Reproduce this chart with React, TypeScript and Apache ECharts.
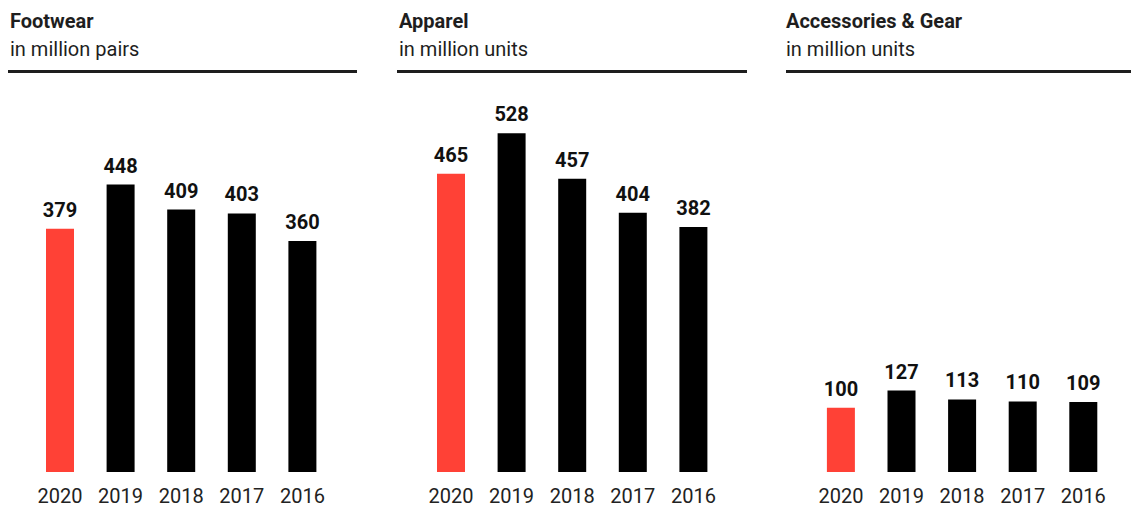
import React, { useEffect, useRef } from "react";
import * as echarts from "echarts";

const years = ["2020", "2019", "2018", "2017", "2016"];
const footwear = [379, 448, 409, 403, 360];
const apparel = [465, 528, 457, 404, 382];
const accessories = [100, 127, 113, 110, 109];
const panelTitles = ["Footwear", "Apparel", "Accessories & Gear"];
const panelUnits = ["in million pairs", "in million units", "in million units"];
const seriesData = [footwear, apparel, accessories];

const RED = "#ff4136";
const DARK = "#1e1e1e";
const FONT = "Roboto, 'Noto Sans', sans-serif";

const gridLefts = [29.7, 420.7, 810.6];
const textLefts = [10, 399, 786];
const lineRanges = [
  [8, 357],
  [397, 747],
  [786, 1131],
];

export default function App() {
  const ref = useRef<HTMLDivElement>(null);
  useEffect(() => {
    if (!ref.current) return;
    const chart = echarts.init(ref.current, null, { renderer: "svg" });
    const graphics: any[] = [];
    panelTitles.forEach((t, i) => {
      graphics.push({
        type: "text",
        left: textLefts[i],
        top: 11,
        style: { text: t, font: `bold 20px ${FONT}`, fill: DARK },
      });
      graphics.push({
        type: "text",
        left: textLefts[i],
        top: 39,
        style: { text: panelUnits[i], font: `20px ${FONT}`, fill: DARK },
      });
      graphics.push({
        type: "line",
        shape: { x1: lineRanges[i][0], y1: 71.5, x2: lineRanges[i][1], y2: 71.5 },
        style: { stroke: DARK, lineWidth: 3 },
      });
    });
    chart.setOption({
      animation: false,
      graphic: graphics,
      grid: gridLefts.map((l) => ({ left: l, width: 303, top: 87, height: 385 })),
      xAxis: gridLefts.map((_, i) => ({
        type: "category",
        gridIndex: i,
        data: years,
        axisLine: { show: false },
        axisTick: { show: false },
        axisLabel: { interval: 0, fontFamily: FONT, fontSize: 20, color: "#222", margin: 14 },
      })),
      yAxis: gridLefts.map((_, i) => ({
        type: "value",
        gridIndex: i,
        min: 0,
        max: 600,
        show: false,
        splitLine: { show: false },
      })),
      series: seriesData.map((d, i) => ({
        type: "bar",
        xAxisIndex: i,
        yAxisIndex: i,
        barWidth: 28,
        data: d.map((v, j) => ({ value: v, itemStyle: { color: j === 0 ? RED : "#000" } })),
        label: {
          show: true,
          position: "top",
          distance: 9,
          fontFamily: FONT,
          fontWeight: "bold",
          fontSize: 20,
          color: "#111",
        },
      })),
    });
    return () => chart.dispose();
  }, []);
  return (
    <div
      ref={ref}
      style={{ position: "fixed", left: 0, top: 0, width: 1131, height: 518, background: "#fff" }}
    />
  );
}
